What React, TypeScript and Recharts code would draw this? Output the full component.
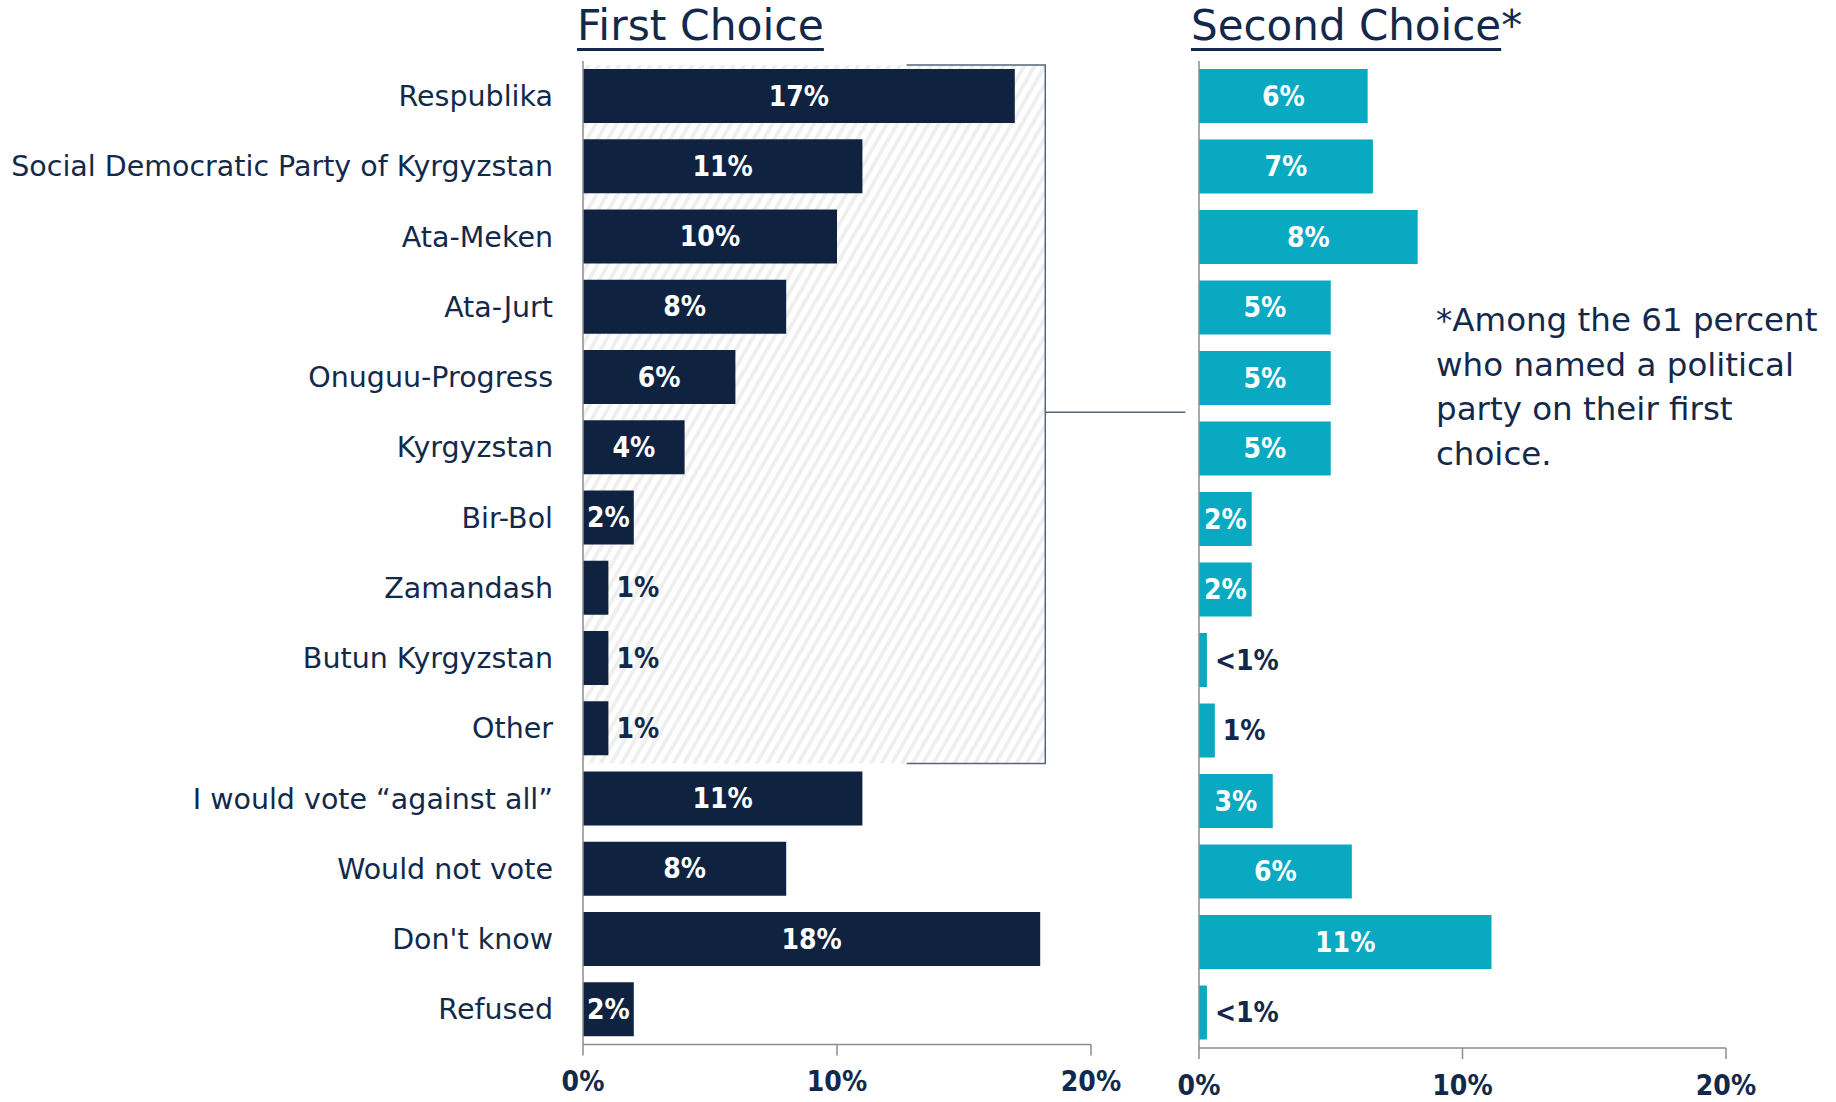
import { BarChart, Bar, XAxis, YAxis, ReferenceArea, LabelList } from "recharts"

const parties = [
  "Respublika",
  "Social Democratic Party of Kyrgyzstan",
  "Ata-Meken",
  "Ata-Jurt",
  "Onuguu-Progress",
  "Kyrgyzstan",
  "Bir-Bol",
  "Zamandash",
  "Butun Kyrgyzstan",
  "Other",
  "I would vote \u201cagainst all\u201d",
  "Would not vote",
  "Don't know",
  "Refused",
]

const firstChoice = [17, 11, 10, 8, 6, 4, 2, 1, 1, 1, 11, 8, 18, 2]
const secondChoice = [6.4, 6.6, 8.3, 5.0, 5.0, 5.0, 2.0, 2.0, 0.3, 0.6, 2.8, 5.8, 11.1, 0.3]
const secondChoiceLabels = ["6%", "7%", "8%", "5%", "5%", "5%", "2%", "2%", "<1%", "1%", "3%", "6%", "11%", "<1%"]
const axisTicks = [0, 10, 20]

const NAVY = "#0f2341"
const TEAL = "#08a9c1"
const TEXT = "#13294b"
const AXIS = "#8c8c8c"
const BOLD_FONT = "'DejaVu Sans Condensed', 'DejaVu Sans', sans-serif"
const FONT = "'DejaVu Sans', sans-serif"

const firstData = parties.map((name, i) => ({ name, value: firstChoice[i], label: `${firstChoice[i]}%` }))
const secondData = parties.map((name, i) => ({ name, value: secondChoice[i], label: secondChoiceLabels[i] }))

// white label inside wide bars, navy label just right of thin ones
const barLabel = (props: any) => {
  const x = Number(props.x)
  const y = Number(props.y)
  const w = Number(props.width)
  const h = Number(props.height)
  const inside = w >= 40
  return (
    <text
      x={inside ? x + w / 2 : x + w + 8}
      y={y + h / 2}
      textAnchor={inside ? "middle" : "start"}
      dominantBaseline="central"
      fill={inside ? "#ffffff" : TEXT}
      fontFamily={BOLD_FONT}
      fontWeight="bold"
      fontSize={28}
    >
      {props.value}
    </text>
  )
}

const HatchBox = (props: any) => {
  const { x, y, width, height } = props
  const right = x + width
  const bx = x + width * 0.7
  const midY = y + height / 2
  return (
    <g>
      <rect x={x} y={y + 4} width={width} height={height - 4} fill="url(#hatch)" />
      <path
        d={`M${bx},${y + 4} H${right} V${y + height} H${bx}`}
        fill="none"
        stroke="#56657a"
        strokeWidth={1.5}
      />
      <line x1={right} y1={midY} x2={right + 140} y2={midY} stroke="#56657a" strokeWidth={1.5} />
    </g>
  )
}

const xTick = { fill: TEXT, fontSize: 28, fontWeight: "bold", fontFamily: BOLD_FONT }
const underline = { textDecoration: "underline", textDecorationThickness: 3, textUnderlineOffset: 8 }

export default function App() {
  return (
    <div
      style={{
        position: "absolute",
        left: 0,
        top: 0,
        width: 1836,
        height: 1102,
        background: "#ffffff",
        fontFamily: FONT,
        color: TEXT,
      }}
    >
      <div style={{ position: "absolute", left: 577, top: 0, fontSize: 42.5, lineHeight: "52px" }}>
        <span style={underline}>First Choice</span>
      </div>
      <div style={{ position: "absolute", left: 1191, top: 0, fontSize: 42, lineHeight: "52px" }}>
        <span style={underline}>Second Choice</span>*
      </div>

      <div style={{ position: "absolute", left: 0, top: 0 }}>
        <BarChart
          layout="vertical"
          width={1195}
          height={1102}
          data={firstData}
          margin={{ top: 61, right: 104, bottom: 0, left: 0 }}
        >
          <defs>
            <pattern id="hatch" width={9} height={9} patternUnits="userSpaceOnUse" patternTransform="rotate(30)">
              <rect x={0} y={0} width={4} height={9} fill="#efefef" />
            </pattern>
          </defs>
          <ReferenceArea x1={0} x2={18.2} y1="Respublika" y2="Other" shape={HatchBox} ifOverflow="visible" />
          <XAxis
            type="number"
            domain={[0, 20]}
            ticks={axisTicks}
            interval={0}
            tickFormatter={(v) => `${v}%`}
            height={57.5}
            stroke={AXIS}
            strokeWidth={1.5}
            tickSize={11}
            tickMargin={16}
            tick={xTick}
          />
          <YAxis
            type="category"
            dataKey="name"
            width={583}
            tickLine={false}
            tickSize={0}
            tickMargin={30}
            stroke={AXIS}
            strokeWidth={1.5}
            interval={0}
            tick={{ fill: TEXT, fontSize: 28.5, fontFamily: FONT }}
          />
          <Bar dataKey="value" fill={NAVY} barSize={54} isAnimationActive={false}>
            <LabelList dataKey="label" content={barLabel} />
          </Bar>
        </BarChart>
      </div>

      <div style={{ position: "absolute", left: 1150, top: 0 }}>
        <BarChart
          layout="vertical"
          width={686}
          height={1102}
          data={secondData}
          margin={{ top: 61, right: 110, bottom: 0, left: 0 }}
        >
          <XAxis
            type="number"
            domain={[0, 20]}
            ticks={axisTicks}
            interval={0}
            tickFormatter={(v) => `${v}%`}
            height={54}
            stroke={AXIS}
            strokeWidth={1.5}
            tickSize={11}
            tickMargin={16}
            tick={xTick}
          />
          <YAxis type="category" dataKey="name" width={49} tick={false} tickLine={false} stroke={AXIS} strokeWidth={1.5} />
          <Bar dataKey="value" fill={TEAL} barSize={54} isAnimationActive={false}>
            <LabelList dataKey="label" content={barLabel} />
          </Bar>
        </BarChart>
      </div>

      <div
        style={{
          position: "absolute",
          left: 1436,
          top: 298,
          fontSize: 32.5,
          lineHeight: "44.5px",
          whiteSpace: "pre",
        }}
      >
        {"*Among the 61 percent\nwho named a political\nparty on their first\nchoice."}
      </div>
    </div>
  )
}
